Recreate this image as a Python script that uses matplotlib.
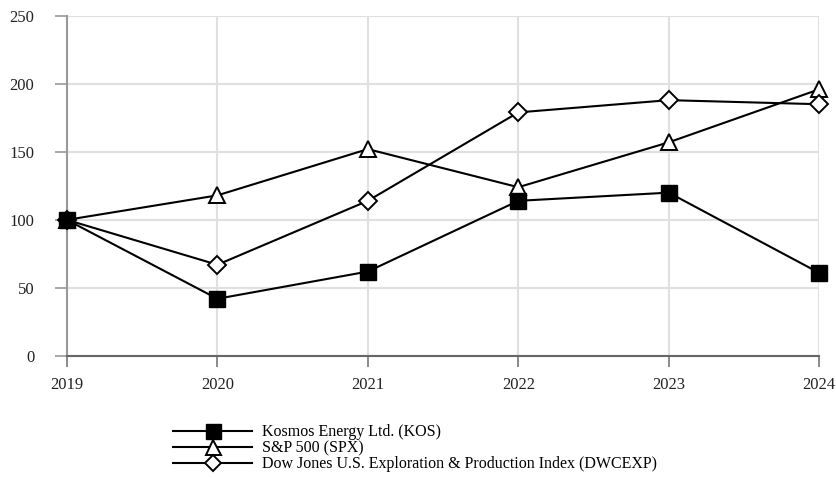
import matplotlib
matplotlib.use("Agg")
import matplotlib.pyplot as plt

years = [2019, 2020, 2021, 2022, 2023, 2024]
kos = [100, 42, 62, 114, 120, 61]
spx = [100, 118, 152, 124, 157, 196]
dwcexp = [100, 67, 114, 179, 188, 185]
labels = ["Kosmos Energy Ltd. (KOS)", "S&P 500 (SPX)",
          "Dow Jones U.S. Exploration & Production Index (DWCEXP)"]
yticks = [0, 50, 100, 150, 200, 250]

plt.rcParams['font.family'] = ['Liberation Serif', 'DejaVu Serif']

fig = plt.figure(figsize=(8.36, 4.79), dpi=100)
ax = fig.add_axes([0.080, 0.257, 0.900, 0.710])

ax.plot(years, kos, color='black', lw=1.5, marker='s', ms=12,
        mfc='black', mec='black', label=labels[0], zorder=5, clip_on=False)
ax.plot(years, spx, color='black', lw=1.5, marker='^', ms=12,
        mfc='white', mec='black', mew=1.4, label=labels[1], zorder=4, clip_on=False)
ax.plot(years, dwcexp, color='black', lw=1.5, marker='D', ms=9,
        mfc='white', mec='black', mew=1.4, label=labels[2], zorder=4, clip_on=False)

ax.set_xlim(2019, 2024)
ax.set_ylim(0, 250)
ax.set_xticks(years)
ax.set_xticklabels([str(y) for y in years])
ax.set_yticks(yticks)
ax.grid(True, color='#e0e0e0', lw=1.5)
ax.set_axisbelow(True)
for s in ['top', 'right']:
    ax.spines[s].set_visible(False)
ax.spines['left'].set_color('#999999')
ax.spines['bottom'].set_color('#666666')
for s in ['left', 'bottom']:
    ax.spines[s].set_linewidth(1.5)
ax.tick_params(axis='y', colors='#999999', labelcolor='#222222',
               labelsize=12, length=8.5, width=1.2, pad=15)
ax.tick_params(axis='x', colors='#777777', labelcolor='#222222',
               labelsize=12, length=8, width=1.2, pad=7)

leg = fig.legend(loc='center left', bbox_to_anchor=(0.207, 0.064),
                 frameon=False, fontsize=11.5, handlelength=4.95,
                 handletextpad=0.6, labelspacing=0.0, borderpad=0,
                 borderaxespad=0, markerscale=0.9)

fig.savefig("out.png", dpi=100)
